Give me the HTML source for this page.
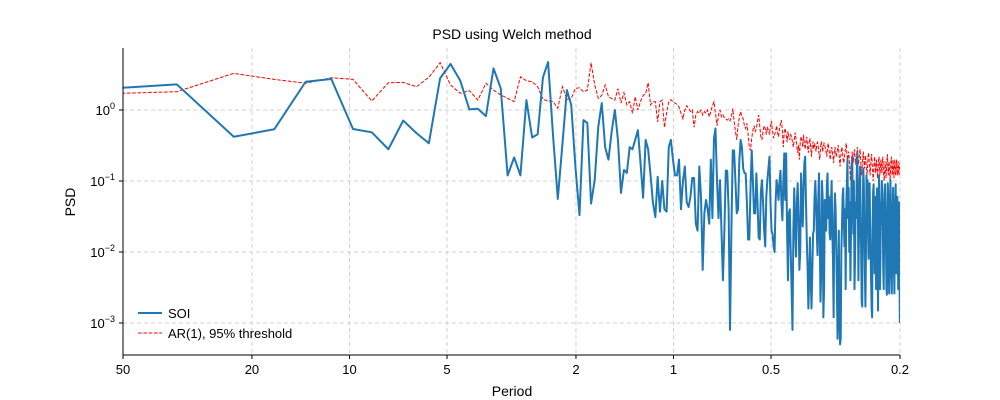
<!DOCTYPE html>
<html><head><meta charset="utf-8"><style>
html,body{margin:0;padding:0;background:#fff}
svg{display:block;font-family:"Liberation Sans",Arial,sans-serif}
</style></head><body>
<svg id="chart" width="1000" height="400" viewBox="0 0 1000 400">
<defs><clipPath id="clip"><rect x="123" y="48" width="777" height="307"/></clipPath></defs>
<text x="512" y="39" text-anchor="middle" font-size="14">PSD using Welch method</text>
<g id="grid"></g>
<g id="series" clip-path="url(#clip)"></g>
<g id="axes"></g>
<text x="512" y="396" text-anchor="middle" font-size="14">Period</text>
<text x="75" y="202" text-anchor="middle" font-size="14" transform="rotate(-90 75 202)">PSD</text>
<g>
<line x1="138" y1="313" x2="162" y2="313" stroke="#1f77b4" stroke-width="2"/>
<text x="168" y="318" font-size="13">SOI</text>
<line x1="138" y1="333" x2="162" y2="333" stroke="red" stroke-width="1" stroke-dasharray="3.7,1.6"/>
<text x="168" y="338" font-size="13">AR(1), 95% threshold</text>
</g>
</svg>
<script>
const df = 1/68.27;
const xTicks = [50,20,10,5,2,1,0.5,0.2];
const xTickLabels = ["50","20","10","5","2","1","0.5","0.2"];
const yTicks = [0,-1,-2,-3];
const soi1 = [1.88,2.30,0.42,0.535,2.5,2.73,0.54,0.485,0.28,0.71,0.47,0.34,2.8,4.45,2.59,1.02,1.04,0.82,3.86,2.02,0.12,0.215,0.12,1.38,0.41,0.455,2.89,4.74,0.44,0.056,0.33,1.91,1.18,0.16,0.033,0.72,0.66,0.048,0.103,0.58,1.25,0.3,0.2,0.5,1.0,0.38,0.068,0.143,0.13,0.30,0.28,0.38,0.52,0.18,0.058,0.38,0.28,0.12,0.049,0.031,0.115,0.037,0.1];
const soi2 = [0.04,0.037,0.3,0.38,0.2,0.12,0.12,0.2,0.04,0.1,0.16,0.05,0.043,0.06,0.11,0.11,0.025,0.02,0.16,0.06,0.0056,0.035,0.054,0.04,0.025,0.2,0.03,0.4,0.55,0.1,0.03,0.103,0.02,0.004,0.02,0.14,0.14];
const soi3 = [0.04,0.0008,0.02,0.27,0.27,0.1,0.035,0.04,0.2,0.38,0.3,0.15,0.13,0.128,0.05,0.015,0.015,0.08,0.27,0.1,0.035,0.035,0.128,0.05,0.016,0.015,0.07,0.103,0.05,0.02,0.012,0.06,0.103,0.15,0.22,0.05,0.02,0.018,0.012,0.01,0.05,0.103,0.08,0.054,0.1,0.14,0.05,0.028,0.1,0.245];
const soi4 = [0.054,0.245,0.02,0.004,0.035,0.04,0.01,0.003,0.0008,0.02,0.079,0.02,0.0086,0.05,0.093,0.03,0.0056,0.01,0.128,0.05,0.023,0.08,0.18,0.22,0.05,0.015,0.006,0.0016,0.004,0.016,0.0045,0.0016,0.005,0.018,0.02,0.06,0.1,0.05,0.018,0.009,0.06,0.128,0.016,0.002,0.005,0.1,0.06,0.0012,0.003,0.054];
const soi5 = [0.043,0.02,0.09,0.128,0.03,0.06,0.018,0.015,0.05,0.1,0.02,0.008,0.0012,0.03,0.067,0.04,0.012,0.003,0.0006,0.004,0.02,0.001,0.0005,0.0006,0.01,0.023,0.06,0.079,0.03,0.012,0.04,0.003,0.043,0.09,0.2,0.03,0.08,0.01,0.05,0.004,0.02,0.16,0.22,0.06,0.018,0.1,0.003,0.008,0.05,0.03];
const soi6 = [0.12,0.25,0.05,0.004,0.02,0.08,0.16,0.03,0.01,0.002,0.0017,0.04,0.15,0.09,0.02,0.005,0.0017,0.01,0.12,0.06,0.103,0.02,0.008,0.09,0.093,0.03,0.01,0.004,0.0016,0.0012,0.02,0.07,0.09,0.03,0.005,0.012,0.06,0.003,0.04,0.079,0.01,0.0015,0.02,0.12,0.05,0.003,0.008,0.05,0.025,0.1];
const soi7 = [0.079,0.03,0.006,0.003,0.02,0.06,0.09,0.04,0.012,0.003,0.0025,0.015,0.093,0.06,0.01,0.0026,0.008,0.05,0.103,0.03,0.005,0.0026,0.01,0.04,0.08,0.02,0.006,0.0026,0.015,0.054,0.09,0.02,0.005,0.04,0.06,0.01,0.003,0.02,0.05,0.008,0.001];
const ar1 = [1.65,1.81,3.28,2.7,2.38,2.85,2.7,1.34,2.42,2.45,2.13,2.89,4.63,2.25,1.72,1.87,1.38,2.38,1.91,1.63,1.46,1.31,2.94,2.59,2.5,2.13,1.41,1.34,1.31,1.06,2.13,1.41,1.45,2.02,2.05,1.81,1.9,4.63,2.25,1.46,1.6,2.25,1.54,1.45,1.38,2.0,1.25,1.75,1.18,1.31,0.9,1.54,1.0,1.31,1.6,1.7,2.42,1.18,1.31,1.31,0.68,1.31,1.38];
const ar2 = [0.57,0.9,1.3,1.4,1.3,1.25,1.2,1.1,0.9,0.75,1.0,1.15,1.05,0.95,1.0,0.57,0.85,0.95,0.9,1.0,0.85,0.95,0.9,1.0,0.8,0.95,1.15,1.3,0.9,0.6,0.85,1.0,0.8,0.85,0.78,0.75,0.72];
const ar3 = [0.75,0.7,0.8,1.05,0.7,0.5,0.38,0.6,0.8,0.95,0.8,0.75,0.6,0.55,0.65,0.45,0.3,0.27,0.4,0.52,0.6,0.5,0.55,0.7,0.85,0.6,0.42,0.38,0.5,0.6,0.55,0.45,0.58,0.52,0.45,0.6,0.7,0.5,0.4,0.45,0.5,0.6,0.48,0.42,0.55,0.65,0.72,0.5,0.3,0.5];
const ar4 = [0.55,0.45,0.35,0.5,0.42,0.38,0.45,0.42,0.35,0.3,0.38,0.48,0.4,0.3,0.25,0.32,0.2,0.35,0.42,0.38,0.3,0.45,0.34,0.28,0.36,0.42,0.3,0.25,0.35,0.4,0.3,0.22,0.32,0.36,0.28,0.34,0.3,0.26,0.33,0.35,0.3,0.24,0.2,0.28,0.36,0.32,0.26,0.3,0.34,0.32];
const ar5 = [0.28,0.25,0.22,0.3,0.34,0.28,0.24,0.2,0.26,0.3,0.27,0.22,0.18,0.25,0.3,0.26,0.22,0.25,0.28,0.32,0.26,0.2,0.16,0.22,0.27,0.3,0.24,0.2,0.18,0.22,0.26,0.3,0.34,0.25,0.2,0.22,0.26,0.2,0.15,0.1,0.14,0.2,0.26,0.22,0.18,0.24,0.28,0.22,0.17,0.2];
const ar6 = [0.24,0.3,0.22,0.17,0.2,0.25,0.28,0.2,0.15,0.12,0.16,0.22,0.26,0.2,0.15,0.18,0.23,0.19,0.14,0.12,0.16,0.22,0.25,0.2,0.15,0.12,0.16,0.2,0.24,0.18,0.14,0.1,0.13,0.18,0.22,0.17,0.13,0.16,0.2,0.15,0.11,0.14,0.19,0.22,0.16,0.12,0.15,0.2,0.17,0.13];
const ar7 = [0.18,0.22,0.16,0.12,0.1,0.14,0.19,0.15,0.11,0.14,0.2,0.24,0.17,0.12,0.15,0.19,0.14,0.1,0.13,0.18,0.22,0.16,0.12,0.15,0.2,0.14,0.11,0.16,0.2,0.15,0.12,0.14,0.2,0.16,0.12,0.15,0.19,0.14,0.12,0.16,0.18];

const soi = soi1.concat(soi2,soi3,soi4,soi5,soi6,soi7);
const ar = ar1.concat(ar2,ar3,ar4,ar5,ar6,ar7);

const L=123,R=900,T=48,B=355;
const pMax=50,pMin=0.2;
function xOfPeriod(p){return L+(Math.log10(pMax)-Math.log10(p))/(Math.log10(pMax)-Math.log10(pMin))*(R-L);}
function xOfFreq(f){return xOfPeriod(1/f);}
function yOf(v){return 110-71*Math.log10(v);}
const NS="http://www.w3.org/2000/svg";
function mk(tag,attrs,parent){const e=document.createElementNS(NS,tag);for(const k in attrs)e.setAttribute(k,attrs[k]);parent.appendChild(e);return e;}
const grid=document.getElementById('grid'),axes=document.getElementById('axes'),series=document.getElementById('series');

xTicks.forEach((p,i)=>{
  const x=xOfPeriod(p);
  if(i>0){const g=mk('line',{x1:x,x2:x,y1:T,y2:B,stroke:'#d0d0d0','stroke-width':1,'stroke-dasharray':'4,3'},grid);
  
  }
  const t=mk('line',{x1:x,x2:x,y1:B,y2:B+4,stroke:'#000','stroke-width':1},axes);
  
  
  const lb=mk('text',{x:x,y:B+19,'text-anchor':'middle','font-size':13},axes);
  lb.textContent=xTickLabels[i];
  
  
});
yTicks.forEach(e=>{
  const y=yOf(Math.pow(10,e));
  const g=mk('line',{x1:L,x2:R,y1:y,y2:y,stroke:'#d0d0d0','stroke-width':1,'stroke-dasharray':'4,3'},grid);
  
  
  const t=mk('line',{x1:L-4,x2:L,y1:y,y2:y,stroke:'#000','stroke-width':1},axes);
  
  
  const lb=mk('text',{x:L-8,y:y+5,'text-anchor':'end','font-size':13},axes);
  
  
  lb.appendChild(document.createTextNode('10'));
  const sp=mk('tspan',{dy:-6,'font-size':9},lb);sp.textContent=(e<0?'\u2212'+(-e):String(e));
});
const ax1=mk('line',{x1:L,x2:L,y1:T,y2:B,stroke:'#000','stroke-width':1},axes);


const ax2=mk('line',{x1:L,x2:R,y1:B,y2:B,stroke:'#000','stroke-width':1},axes);



function pts(arr){return arr.map((v,i)=>xOfFreq((i+1)*df).toFixed(2)+','+yOf(v).toFixed(2)).join(' ');}
const arLine=mk('polyline',{points:pts(ar),fill:'none',stroke:'red','stroke-width':1,'stroke-dasharray':'3.7,1.6'},series);


const soiLine=mk('polyline',{points:pts(soi),fill:'none',stroke:'#1f77b4','stroke-width':2,'stroke-linejoin':'round'},series);


</script>
</body></html>
